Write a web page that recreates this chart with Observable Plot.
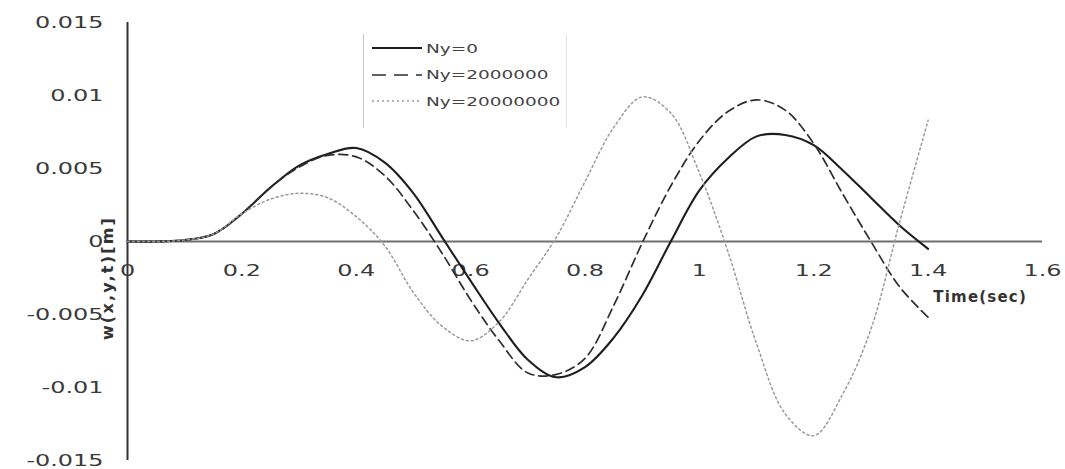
<!DOCTYPE html>
<html>
<head>
<meta charset="utf-8">
<script src="https://cdn.jsdelivr.net/npm/d3@7"></script>
<script src="https://cdn.jsdelivr.net/npm/@observablehq/plot@0.6"></script>
<style>
  html, body { margin: 0; padding: 0; background: #fff; }
  #wrap { position: relative; width: 1065px; height: 469px; }
  #legend {
    position: absolute; left: 363px; top: 34px; width: 202px; height: 94px;
    border-left: 1.5px solid #c8c8c8; border-right: 1px solid #e4e4e4;
    font-family: "DejaVu Sans", sans-serif; font-size: 13px; color: #444;
  }
  #legend .row { position: absolute; left: 8px; height: 16px; display: flex; align-items: center; }
  #legend svg { margin-right: 4px; flex: none; }
  #legend span { display: inline-block; transform: scaleX(1.42); transform-origin: left center; white-space: nowrap; }
</style>
</head>
<body>
<div id="wrap">
  <div id="chart"></div>
  <div id="legend"></div>
</div>
<script>
// Time samples (s)
const time = [0, 0.05, 0.1, 0.15, 0.2, 0.25, 0.3, 0.35, 0.4, 0.45, 0.5, 0.55, 0.6, 0.65, 0.7,
              0.75, 0.8, 0.85, 0.9, 0.95, 1.0, 1.05, 1.1, 1.15, 1.2, 1.25, 1.3, 1.35, 1.4];

// Deflection w(x,y,t) [m] for each in-plane load Ny
const ny0 = [0, 0, 0.0001, 0.0005, 0.0019, 0.0037, 0.0052, 0.0060, 0.0064, 0.0054, 0.0033, 0.0003,
             -0.0027, -0.0056, -0.0081, -0.0093, -0.0086, -0.0066, -0.0037, 0.0000, 0.0035, 0.0057,
             0.0072, 0.0073, 0.0066, 0.0049, 0.0030, 0.0011, -0.0005];
const ny2e6 = [0, 0, 0.0001, 0.0005, 0.0019, 0.0037, 0.0051, 0.0059, 0.0058, 0.0045, 0.0021, -0.0008,
               -0.0040, -0.0068, -0.0090, -0.0091, -0.0080, -0.0044, -0.0001, 0.0038, 0.0069, 0.0089,
               0.0097, 0.0090, 0.0067, 0.0033, 0.0000, -0.0031, -0.0052];
const ny2e7 = [0, 0, 0.0001, 0.0005, 0.0019, 0.0029, 0.0033, 0.0030, 0.0017, -0.0003, -0.0035, -0.0058,
               -0.0068, -0.0055, -0.0026, 0.0003, 0.0041, 0.0078, 0.0099, 0.0088, 0.0047, -0.0007,
               -0.0070, -0.0118, -0.0133, -0.0105, -0.0060, 0.0013, 0.0083];

const seriesNames = ["Ny=0", "Ny=2000000", "Ny=20000000"];

// Axis ticks and their printed labels
const xTicks = [0, 0.2, 0.4, 0.6, 0.8, 1, 1.2, 1.4, 1.6];
const xTickLabels = ["0", "0.2", "0.4", "0.6", "0.8", "1", "1.2", "1.4", "1.6"];
const yTicks = [0.015, 0.01, 0.005, 0, -0.005, -0.01, -0.015];
const yTickLabels = ["0.015", "0.01", "0.005", "0", "-0.005", "-0.01", "-0.015"];

const rows = [ny0, ny2e6, ny2e7].flatMap((vals, s) =>
  vals.map((v, i) => ({series: seriesNames[s], t: time[i], w: v})));

const styles = {
  "Ny=0":        {stroke: "#1e1e1e", strokeWidth: 2.1, strokeDasharray: null},
  "Ny=2000000":  {stroke: "#2e2e2e", strokeWidth: 1.7, strokeDasharray: "9,5"},
  "Ny=20000000": {stroke: "#9a9a9a", strokeWidth: 1.5, strokeDasharray: "2,3"}
};

const xTickRows = xTicks.map((t, i) => ({t, label: xTickLabels[i]}));
const yLabelOf = new Map(yTicks.map((v, i) => [v, yTickLabels[i]]));

const chart = Plot.plot({
  width: 1065,
  height: 469,
  marginLeft: 127,
  marginRight: 23,
  marginTop: 22,
  marginBottom: 9,
  style: {fontFamily: "DejaVu Sans, sans-serif", fontSize: "16px", color: "#3a3a3a", background: "#fff"},
  x: {domain: [0, 1.6]},
  y: {domain: [-0.015, 0.015]},
  marks: [
    Plot.axisY({ticks: yTicks, tickSize: 0, tickPadding: 24, tickFormat: d => yLabelOf.get(d),
                fontSize: 16.5, label: null}),
    Plot.axisX({ticks: [], label: null}),
    // horizontal zero axis
    Plot.ruleY([0], {stroke: "#6e6e6e", strokeWidth: 2}),
    // vertical axis at t = 0
    Plot.ruleX([0], {stroke: "#333", strokeWidth: 2}),
    Plot.text(xTickRows, {x: "t", y: () => 0, text: "label", dy: 29, fontSize: 16.5, fill: "#3a3a3a"}),
    ...seriesNames.map(name => Plot.line(rows.filter(d => d.series === name), {
      x: "t", y: "w", curve: "catmull-rom",
      stroke: styles[name].stroke, strokeWidth: styles[name].strokeWidth,
      strokeDasharray: styles[name].strokeDasharray
    })),
    // axis titles
    Plot.text(["Time(sec)"], {x: () => 1.4, y: () => 0, dx: 52, dy: 56, text: d => d,
                              fontWeight: "bold", fontSize: 15, fill: "#333"}),
    Plot.text(["w(x,y,t)[m]"], {x: () => 0, y: () => -0.0025, dx: -20, text: d => d, rotate: -90,
                                fontWeight: "bold", fontSize: 16, fill: "#333"})
  ]
});
document.getElementById("chart").appendChild(chart);

// Tick labels use a wide, extended lettering: stretch the glyphs horizontally
const tickTexts = new Set([...xTickLabels, ...yTickLabels]);
d3.select(chart).selectAll("text")
  .filter(function () { return tickTexts.has(this.textContent); })
  .each(function () {
    const w = this.getComputedTextLength();
    this.setAttribute("textLength", (w * 1.45).toFixed(1));
    this.setAttribute("lengthAdjust", "spacingAndGlyphs");
  });
d3.select(chart).selectAll("text")
  .filter(function () { return this.textContent === "Time(sec)"; })
  .style("letter-spacing", "1.2px");
d3.select(chart).selectAll("text")
  .filter(function () { return this.textContent === "w(x,y,t)[m]"; })
  .style("letter-spacing", "2.2px");

// Legend
const legend = document.getElementById("legend");
seriesNames.forEach((name, i) => {
  const row = document.createElement("div");
  row.className = "row";
  row.style.top = (6 + i * 26.5) + "px";
  const s = styles[name];
  row.innerHTML = `<svg width="50" height="10"><line x1="0" x2="50" y1="5" y2="5" stroke="${s.stroke}"
      stroke-width="${s.strokeWidth}" ${s.strokeDasharray ? `stroke-dasharray="${i === 1 ? "14,8" : s.strokeDasharray}"` : ""}/></svg><span>${name}</span>`;
  legend.appendChild(row);
});
</script>
</body>
</html>
